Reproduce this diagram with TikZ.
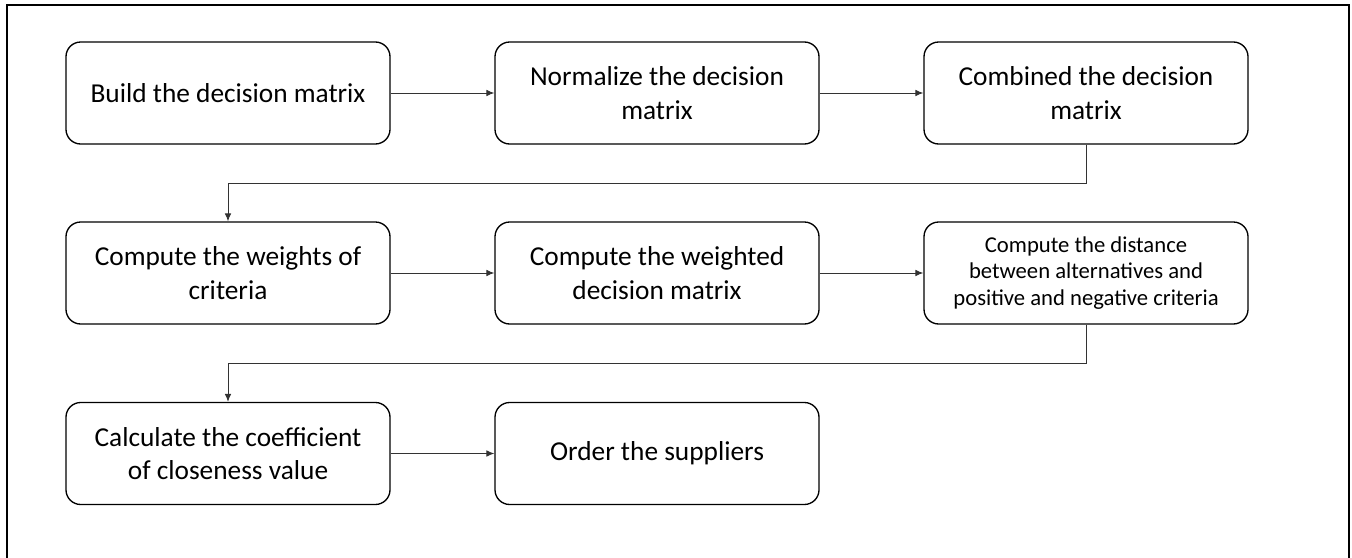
\documentclass[tikz,border=0pt]{standalone}
\usepackage{fontspec}
\setmainfont{Carlito}
\usetikzlibrary{arrows.meta}
\begin{document}
\begin{tikzpicture}[x=0.75pt,y=-0.75pt,
  stepbox/.style={draw=black,line width=1pt,rounded corners=11pt,
    minimum width=243pt,minimum height=76.5pt,inner sep=0pt,
    align=center,font=\fontsize{20.5}{25.3}\selectfont},
  smallbox/.style={stepbox,font=\fontsize{17}{20}\selectfont},
  conn/.style={draw=black!80,line width=0.7pt,-{Latex[length=6pt,width=5pt]}}]
\useasboundingbox (0,0) rectangle (1352,557);
\draw[line width=1.1pt] (7,560) -- (7,5) -- (1349,5) -- (1349,560);
\node[stepbox] (b1) at (228,93) {Build the decision matrix};
\node[stepbox] (b2) at (657,93) {Normalize the decision\\matrix};
\node[stepbox] (b3) at (1086,93) {Combined the decision\\matrix};
\node[stepbox] (b4) at (228,273) {Compute the weights of\\criteria};
\node[stepbox] (b5) at (657,273) {Compute the weighted\\decision matrix};
\node[smallbox] (b6) at (1086,273) {Compute the distance\\between alternatives and\\positive and negative criteria};
\node[stepbox] (b7) at (228,453.5) {Calculate the coefficient\\of closeness value};
\node[stepbox] (b8) at (657,453.5) {Order the suppliers};
\draw[conn] (b1.east) -- (b2.west);
\draw[conn] (b2.east) -- (b3.west);
\draw[conn] (b4.east) -- (b5.west);
\draw[conn] (b5.east) -- (b6.west);
\draw[conn] (b7.east) -- (b8.west);
\draw[conn] (b3.south) -- ++(0,39) -| (b4.north);
\draw[conn] (b6.south) -- ++(0,39) -| (b7.north);
\end{tikzpicture}
\end{document}
